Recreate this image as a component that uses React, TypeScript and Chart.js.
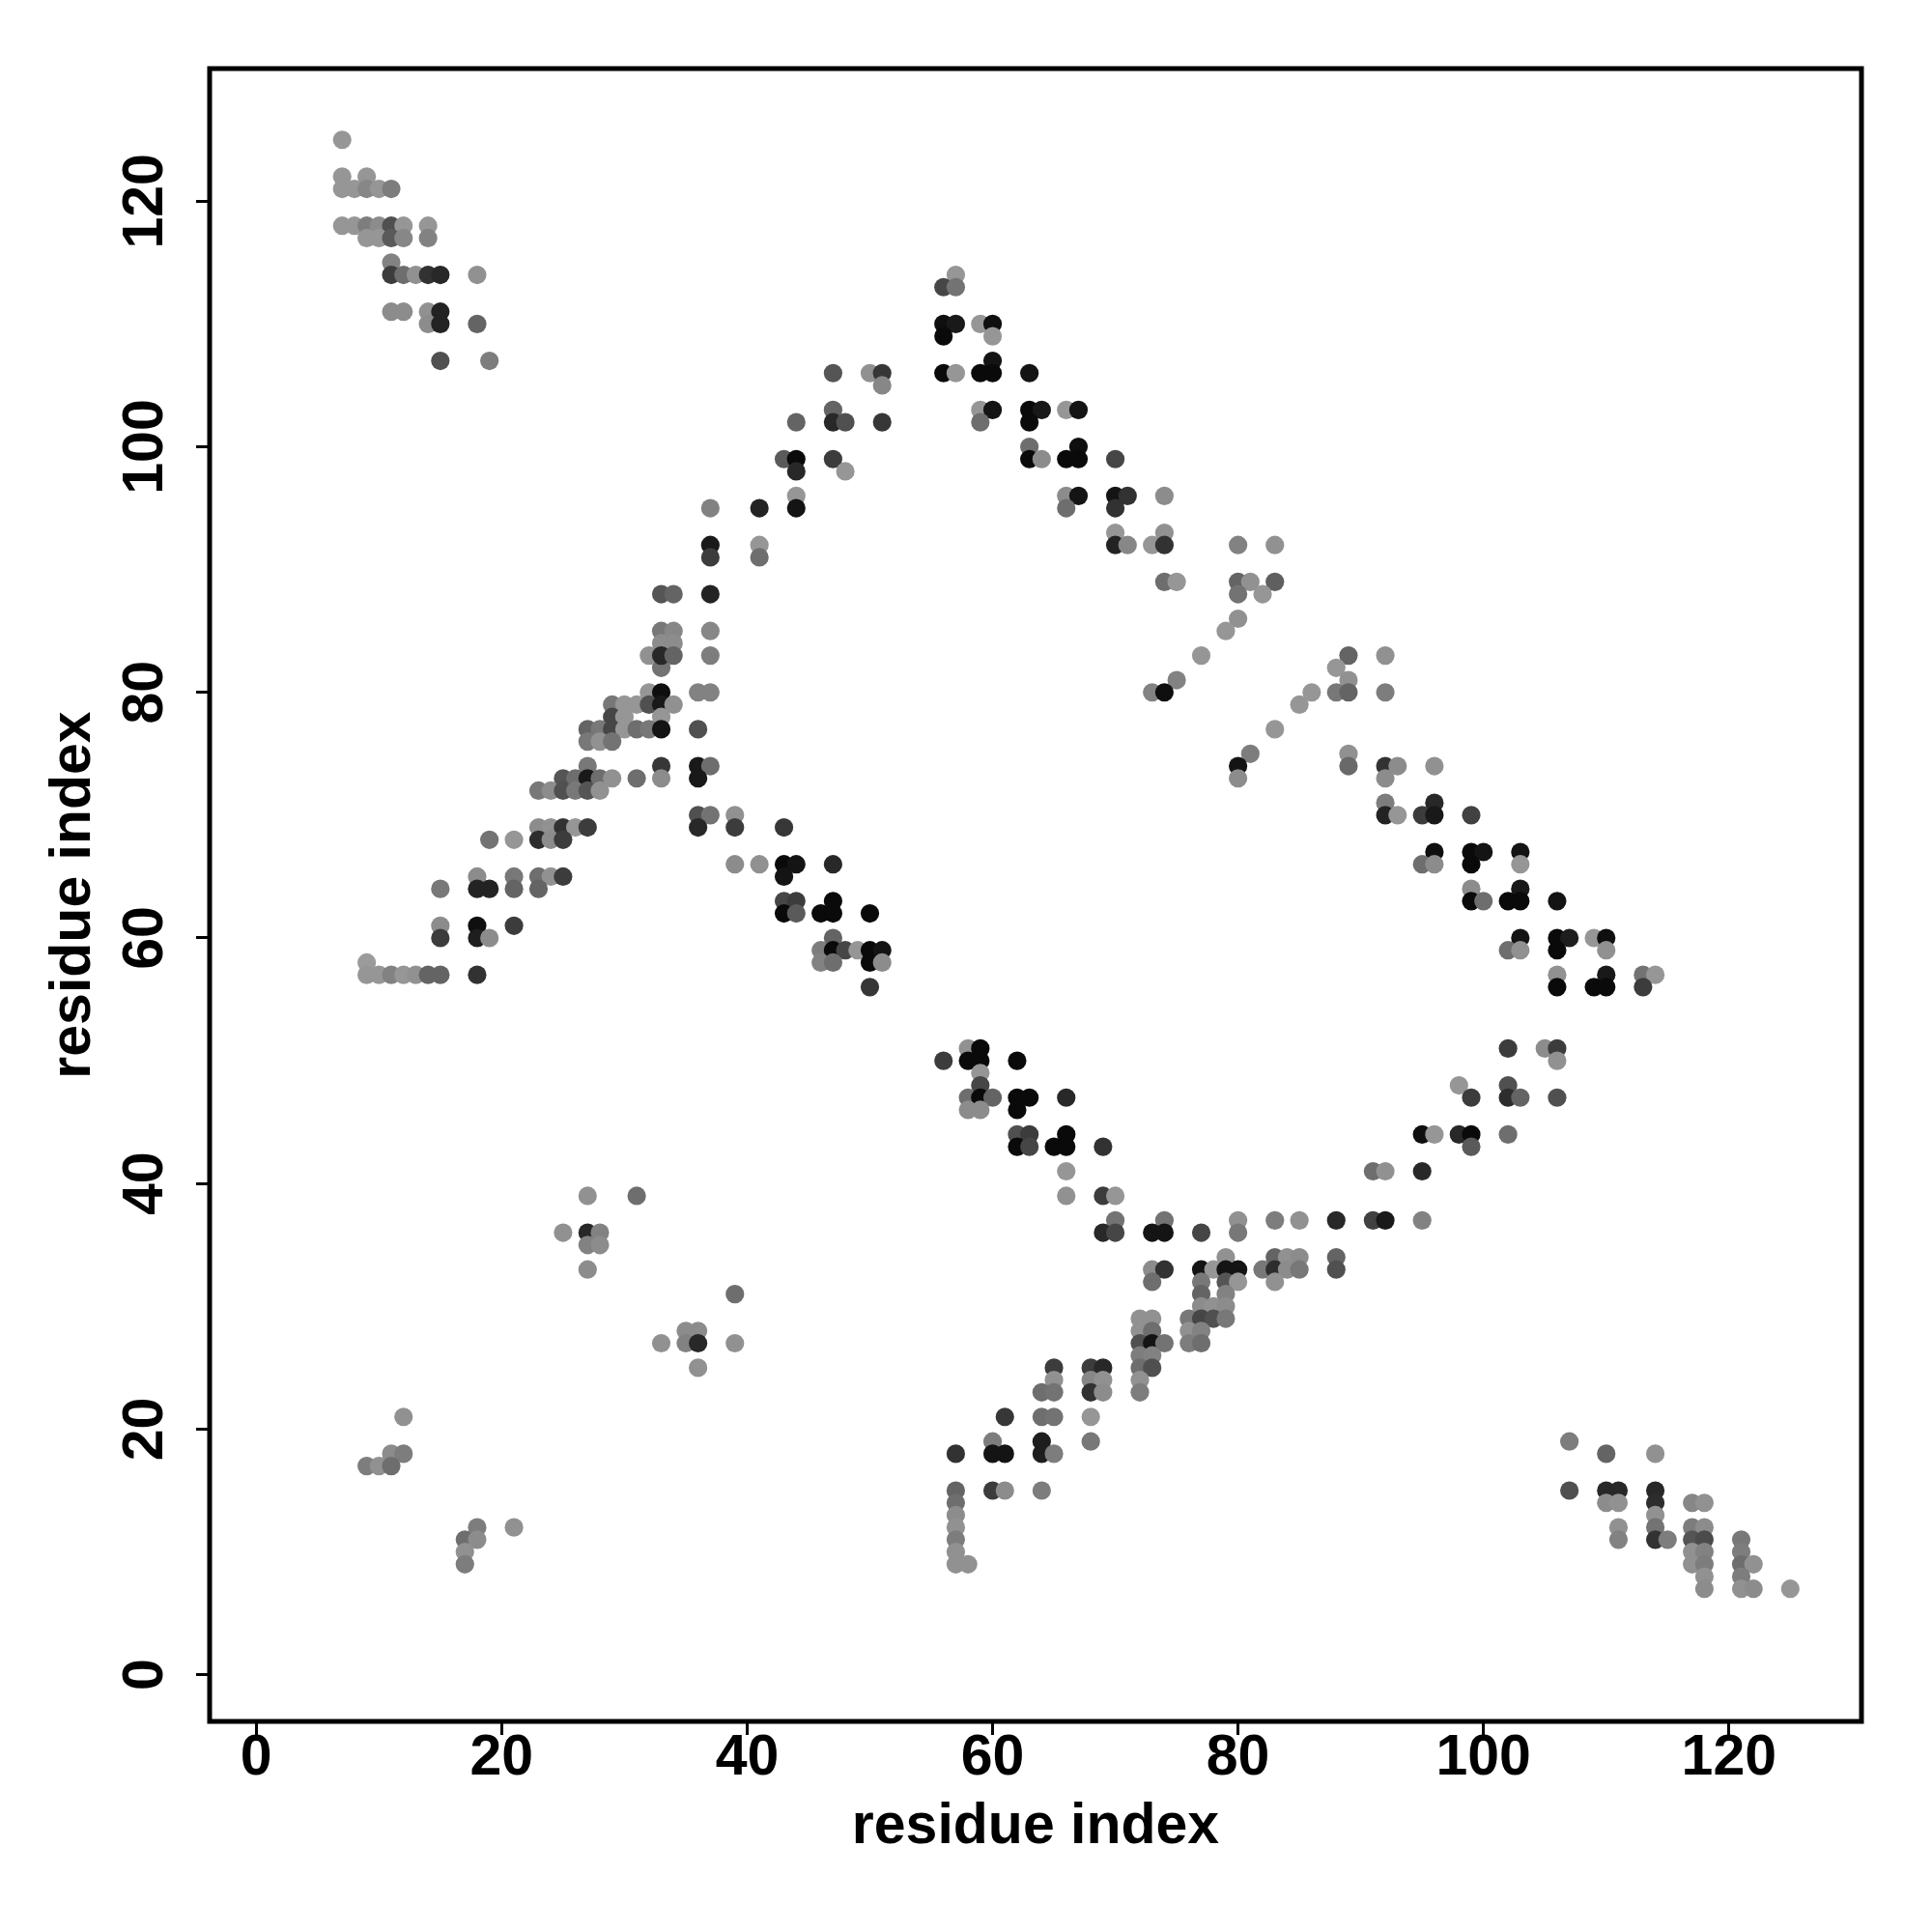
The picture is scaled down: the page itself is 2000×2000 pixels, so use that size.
import React, { useEffect, useRef } from "react";
import { Chart, registerables } from "chart.js";

Chart.register(...registerables);

// Each contact: [residue i, residue j, grey level (0 = black, 150 = light grey)]
type Contact = [number, number, number];

const topLeftContacts: Contact[] = [
  [7, 125, 150],
  [7, 122, 150], [9, 122, 150],
  [7, 121, 150], [8, 121, 150], [9, 121, 135], [10, 121, 150], [11, 121, 125],
  [7, 118, 150], [8, 118, 150], [9, 118, 125], [10, 118, 140], [11, 118, 80], [12, 118, 150], [14, 118, 150],
  [9, 117, 150], [10, 117, 150], [11, 117, 90], [12, 117, 135], [14, 117, 130],
  [11, 115, 130],
  [11, 114, 60], [12, 114, 110], [13, 114, 145], [14, 114, 50], [15, 114, 40], [18, 114, 145],
  [11, 111, 140], [12, 111, 140], [14, 111, 145], [15, 111, 35],
  [14, 110, 140], [15, 110, 35], [18, 110, 100],
  [15, 107, 80], [19, 107, 125],
];

const leftArmContacts: Contact[] = [
  [33, 82, 115],
  [32, 80, 150], [33, 80, 15], [36, 80, 130], [37, 80, 130],
  [29, 79, 120], [30, 79, 150], [31, 79, 150], [32, 79, 80], [33, 79, 25], [34, 79, 145],
  [29, 78, 70], [30, 78, 150], [33, 78, 150],
  [27, 77, 100], [28, 77, 120], [29, 77, 70], [30, 77, 150], [31, 77, 110], [32, 77, 120], [33, 77, 20], [36, 77, 80],
  [27, 76, 120], [28, 76, 145], [29, 76, 115],
  [27, 74, 120], [33, 74, 55], [36, 74, 25], [37, 74, 110],
  [25, 73, 85], [26, 73, 110], [27, 73, 25], [28, 73, 110], [29, 73, 145], [31, 73, 110], [33, 73, 140], [36, 73, 25],
  [23, 72, 120], [24, 72, 140], [25, 72, 80], [26, 72, 120], [27, 72, 85], [28, 72, 145],
  [36, 70, 80], [37, 70, 115], [39, 70, 145],
  [23, 69, 140], [24, 69, 145], [25, 69, 50], [26, 69, 150], [27, 69, 60], [36, 69, 40], [39, 69, 60], [43, 69, 55],
  [19, 68, 115], [21, 68, 150], [23, 68, 45], [24, 68, 140], [25, 68, 60],
  [18, 65, 140], [21, 65, 120], [23, 65, 110], [24, 65, 145], [25, 65, 60],
  [15, 64, 120], [18, 64, 35], [19, 64, 35], [21, 64, 100], [23, 64, 100],
  [15, 61, 140], [18, 61, 15], [21, 61, 60],
  [15, 60, 60], [18, 60, 30], [19, 60, 140],
  [9, 58, 155],
  [9, 57, 150], [10, 57, 150], [11, 57, 130], [12, 57, 150], [13, 57, 145], [14, 57, 100], [15, 57, 100], [18, 57, 50],
];

const upperArmContacts: Contact[] = [
  [47, 106, 85], [50, 106, 145], [51, 106, 55],
  [51, 105, 135],
  [47, 103, 100],
  [44, 102, 100], [47, 102, 40], [48, 102, 80], [51, 102, 55],
  [43, 99, 90], [44, 99, 10], [47, 99, 60],
  [44, 98, 40], [48, 98, 150],
  [44, 96, 150],
  [37, 95, 130], [41, 95, 35], [44, 95, 20],
  [37, 92, 25], [41, 92, 150],
  [37, 91, 60], [41, 91, 110],
  [33, 88, 85], [34, 88, 100], [37, 88, 35],
  [33, 85, 120], [34, 85, 135], [37, 85, 135],
  [33, 84, 140], [34, 84, 140],
  [32, 83, 145], [33, 83, 40], [34, 83, 100], [37, 83, 125],
];

const middleContacts: Contact[] = [
  [39, 66, 140], [41, 66, 145], [43, 66, 10], [44, 66, 20], [47, 66, 40],
  [43, 65, 20],
  [43, 63, 70], [44, 63, 60], [47, 63, 10],
  [43, 62, 10], [44, 62, 90], [46, 62, 10], [47, 62, 10], [50, 62, 10],
  [47, 60, 100],
  [46, 59, 125], [47, 59, 10], [48, 59, 70], [49, 59, 150], [50, 59, 10], [51, 59, 20],
  [46, 58, 130], [47, 58, 110], [50, 58, 10], [51, 58, 140],
  [50, 56, 55],
];

const topContacts: Contact[] = [
  [57, 114, 150],
  [56, 113, 70], [57, 113, 115],
  [56, 110, 15], [57, 110, 25], [59, 110, 150], [60, 110, 15],
  [56, 109, 10], [60, 109, 150],
  [60, 107, 20],
  [56, 106, 10], [57, 106, 150], [59, 106, 10], [60, 106, 10], [63, 106, 20],
  [59, 103, 150], [60, 103, 20], [63, 103, 10], [64, 103, 25], [66, 103, 150], [67, 103, 20],
  [59, 102, 110], [63, 102, 10],
  [63, 100, 110], [67, 100, 15],
  [63, 99, 10], [64, 99, 140], [66, 99, 10], [67, 99, 10], [70, 99, 70],
  [66, 96, 140], [67, 96, 20], [70, 96, 20], [71, 96, 50], [74, 96, 140],
  [66, 95, 110], [70, 95, 50],
  [70, 93, 150], [74, 93, 145],
  [70, 92, 35], [71, 92, 135], [73, 92, 150], [74, 92, 50], [80, 92, 130], [83, 92, 145],
  [74, 89, 110], [75, 89, 150], [80, 89, 100], [81, 89, 145], [83, 89, 95],
  [80, 88, 115], [82, 88, 150],
  [80, 86, 145],
  [79, 85, 150],
  [77, 83, 150],
  [75, 81, 130],
  [73, 80, 130], [74, 80, 15],
];

const rightContacts: Contact[] = [
  [89, 83, 100], [92, 83, 145],
  [88, 82, 150],
  [89, 81, 145],
  [86, 80, 150], [88, 80, 120], [89, 80, 100], [92, 80, 125],
  [85, 79, 150],
  [83, 77, 150],
  [81, 75, 125], [89, 75, 145],
  [80, 74, 20], [89, 74, 105], [92, 74, 50], [93, 74, 140], [96, 74, 145],
  [80, 73, 140], [92, 73, 140],
  [92, 71, 125], [96, 71, 40],
  [92, 70, 35], [93, 70, 150], [95, 70, 60], [96, 70, 25], [99, 70, 65],
  [96, 67, 15], [99, 67, 10], [100, 67, 20], [103, 67, 20],
  [95, 66, 110], [96, 66, 140], [99, 66, 10], [103, 66, 150],
  [99, 64, 140], [103, 64, 25],
  [99, 63, 10], [100, 63, 110], [102, 63, 10], [103, 63, 10], [106, 63, 20],
  [103, 60, 20], [106, 60, 10], [107, 60, 30], [109, 60, 150], [110, 60, 15],
  [102, 59, 110], [103, 59, 145], [106, 59, 10], [110, 59, 145],
  [106, 57, 145], [110, 57, 25], [113, 57, 115], [114, 57, 150],
  [106, 56, 10], [109, 56, 10], [110, 56, 10], [113, 56, 60],
];

const lowerContacts: Contact[] = [
  [58, 51, 145], [59, 51, 10],
  [56, 50, 60], [58, 50, 10], [59, 50, 10], [62, 50, 10],
  [59, 49, 150],
  [59, 48, 70],
  [58, 47, 110], [59, 47, 10], [60, 47, 100], [62, 47, 10], [63, 47, 10], [66, 47, 40],
  [58, 46, 140], [59, 46, 140], [62, 46, 10],
  [62, 44, 80], [63, 44, 60], [66, 44, 10],
  [62, 43, 10], [63, 43, 70], [65, 43, 10], [66, 43, 10], [69, 43, 50],
  [66, 41, 150],
  [66, 39, 145], [69, 39, 60], [70, 39, 150],
  [70, 37, 115], [74, 37, 115], [80, 37, 145],
  [69, 36, 40], [70, 36, 70], [73, 36, 20], [74, 36, 20], [77, 36, 70], [80, 36, 120],
  [79, 34, 145],
  [73, 33, 140], [74, 33, 50], [77, 33, 20], [78, 33, 150], [79, 33, 20], [80, 33, 20],
  [73, 32, 110], [77, 32, 120], [79, 32, 85], [80, 32, 150],
  [77, 31, 100], [79, 31, 130],
  [77, 30, 140], [78, 30, 145], [79, 30, 140],
  [72, 29, 145], [73, 29, 145], [76, 29, 120], [77, 29, 70], [78, 29, 80], [79, 29, 120],
  [72, 28, 145], [73, 28, 110], [76, 28, 145], [77, 28, 130],
  [72, 27, 80], [73, 27, 20], [74, 27, 115], [76, 27, 125], [77, 27, 110],
  [72, 26, 125], [73, 26, 130],
  [65, 25, 60], [68, 25, 60], [69, 25, 40], [72, 25, 110], [73, 25, 80],
  [65, 24, 145], [68, 24, 135], [69, 24, 145], [72, 24, 145],
  [64, 23, 110], [65, 23, 115], [68, 23, 50], [69, 23, 140], [72, 23, 125],
  [61, 21, 55], [64, 21, 110], [65, 21, 115], [68, 21, 150],
  [60, 19, 125], [64, 19, 30], [68, 19, 120],
  [57, 18, 50], [60, 18, 20], [61, 18, 20], [64, 18, 30], [65, 18, 125],
  [57, 15, 100], [60, 15, 60], [61, 15, 140], [64, 15, 125],
  [57, 14, 110], [57, 13, 140], [57, 12, 145], [57, 11, 125], [57, 10, 145],
  [57, 9, 145], [58, 9, 145],
];

const lowerRightContacts: Contact[] = [
  [102, 51, 60], [105, 51, 140], [106, 51, 60],
  [106, 50, 145],
  [98, 48, 150], [102, 48, 80],
  [99, 47, 60], [102, 47, 45], [103, 47, 100], [106, 47, 80],
  [95, 44, 15], [96, 44, 150], [98, 44, 40], [99, 44, 10], [102, 44, 110],
  [99, 43, 90],
  [91, 41, 110], [92, 41, 145], [95, 41, 40],
  [83, 37, 125], [85, 37, 145], [88, 37, 40], [91, 37, 65], [92, 37, 25], [95, 37, 130],
  [83, 34, 100], [84, 34, 145], [85, 34, 140], [88, 34, 100],
  [82, 33, 120], [83, 33, 45], [84, 33, 140], [85, 33, 120], [88, 33, 80],
  [83, 32, 145],
];

const bottomLeftContacts: Contact[] = [
  [27, 39, 145], [31, 39, 110],
  [25, 36, 145], [27, 36, 40], [28, 36, 130],
  [27, 35, 130], [28, 35, 140],
  [27, 33, 140],
  [39, 31, 110],
  [35, 28, 140], [36, 28, 140],
  [33, 27, 145], [35, 27, 130], [36, 27, 40], [39, 27, 145],
  [36, 25, 145],
  [12, 21, 145],
  [11, 18, 140], [12, 18, 125],
  [9, 17, 125], [10, 17, 145], [11, 17, 110],
  [18, 12, 125], [21, 12, 145],
  [17, 11, 110], [18, 11, 140],
  [17, 10, 145],
  [17, 9, 125],
];

const cornerContacts: Contact[] = [
  [107, 19, 125],
  [110, 18, 100], [114, 18, 145],
  [107, 15, 80], [110, 15, 40], [111, 15, 40], [114, 15, 40],
  [110, 14, 140], [111, 14, 145], [114, 14, 45], [117, 14, 135], [118, 14, 145],
  [114, 13, 145],
  [111, 12, 145], [114, 12, 115], [117, 12, 125], [118, 12, 140],
  [111, 11, 130], [114, 11, 50], [115, 11, 125], [117, 11, 85], [118, 11, 75], [121, 11, 120],
  [117, 10, 145], [118, 10, 130], [121, 10, 125],
  [117, 9, 145], [118, 9, 125], [121, 9, 110], [122, 9, 145],
  [118, 8, 145], [121, 8, 125],
  [118, 7, 140], [121, 7, 145], [122, 7, 140], [125, 7, 150],
];

const xTickValues = [0, 20, 40, 60, 80, 100, 120];
const yTickValues = [0, 20, 40, 60, 80, 100, 120];
const xAxisTitle = "residue index";
const yAxisTitle = "residue index";
const axisMin = -3.8;
const axisMax = 130.8;

const FONT = "'Liberation Sans', Arial, Helvetica, sans-serif";

export default function App() {
  const canvasRef = useRef<HTMLCanvasElement | null>(null);

  useEffect(() => {
    const canvas = canvasRef.current;
    if (!canvas) return;
    const all: Contact[] = [
      ...topLeftContacts,
      ...leftArmContacts,
      ...upperArmContacts,
      ...middleContacts,
      ...topContacts,
      ...rightContacts,
      ...lowerContacts,
      ...lowerRightContacts,
      ...bottomLeftContacts,
      ...cornerContacts,
    ];

    const boxPlugin = {
      id: "plotBox",
      afterDraw(chart: any) {
        const { ctx, chartArea: a } = chart;
        ctx.save();
        ctx.strokeStyle = "#000";
        ctx.lineWidth = 5;
        ctx.strokeRect(a.left, a.top, a.right - a.left, a.bottom - a.top);
        ctx.restore();
      },
    };

    const tickFont = { family: FONT, size: 59, weight: "bold" as const };

    const chart = new Chart(canvas, {
      type: "scatter",
      data: {
        datasets: [
          {
            data: all.map((c) => ({ x: c[0], y: c[1] })),
            backgroundColor: all.map((c) => `rgb(${c[2]},${c[2]},${c[2]})`),
            pointRadius: 9.6,
            pointHoverRadius: 9.6,
            pointBorderWidth: 0,
            borderWidth: 0,
          },
        ],
      },
      options: {
        responsive: false,
        animation: false,
        devicePixelRatio: 1,
        events: [],
        layout: { padding: { left: 0, top: 71, right: 73, bottom: 0 } },
        plugins: {
          legend: { display: false },
          tooltip: { enabled: false },
        },
        scales: {
          x: {
            type: "linear",
            position: "bottom",
            min: axisMin,
            max: axisMax,
            afterBuildTicks: (s: any) => {
              s.ticks = xTickValues.map((v) => ({ value: v }));
            },
            afterFit: (s: any) => {
              s.height = 218;
            },
            grid: {
              display: true,
              drawOnChartArea: false,
              drawTicks: true,
              tickLength: 14,
              color: "#000",
              lineWidth: 3,
            },
            border: { display: false },
            ticks: {
              padding: -11,
              color: "#000",
              font: tickFont,
              maxRotation: 0,
              minRotation: 0,
              autoSkip: false,
            },
            title: {
              display: true,
              text: xAxisTitle,
              color: "#000",
              font: tickFont,
              padding: { top: 0, bottom: 73 },
            },
          },
          y: {
            type: "linear",
            position: "left",
            min: axisMin,
            max: axisMax,
            afterBuildTicks: (s: any) => {
              s.ticks = yTickValues.map((v) => ({ value: v }));
            },
            afterFit: (s: any) => {
              s.width = 217;
            },
            grid: {
              display: true,
              drawOnChartArea: false,
              drawTicks: true,
              tickLength: 14,
              color: "#000",
              lineWidth: 3,
            },
            border: { display: false },
            ticks: {
              padding: 2,
              color: "#000",
              font: tickFont,
              minRotation: 90,
              maxRotation: 90,
              crossAlign: "center",
              autoSkip: false,
            },
            title: {
              display: true,
              text: yAxisTitle,
              color: "#000",
              font: tickFont,
              padding: { top: 41, bottom: 0 },
            },
          },
        },
      },
      plugins: [boxPlugin],
    } as any);

    return () => chart.destroy();
  }, []);

  return (
    <div style={{ position: "absolute", left: 0, top: 0, width: 2000, height: 2000, background: "#fff" }}>
      <canvas ref={canvasRef} width={2000} height={2000} style={{ display: "block" }} />
    </div>
  );
}
